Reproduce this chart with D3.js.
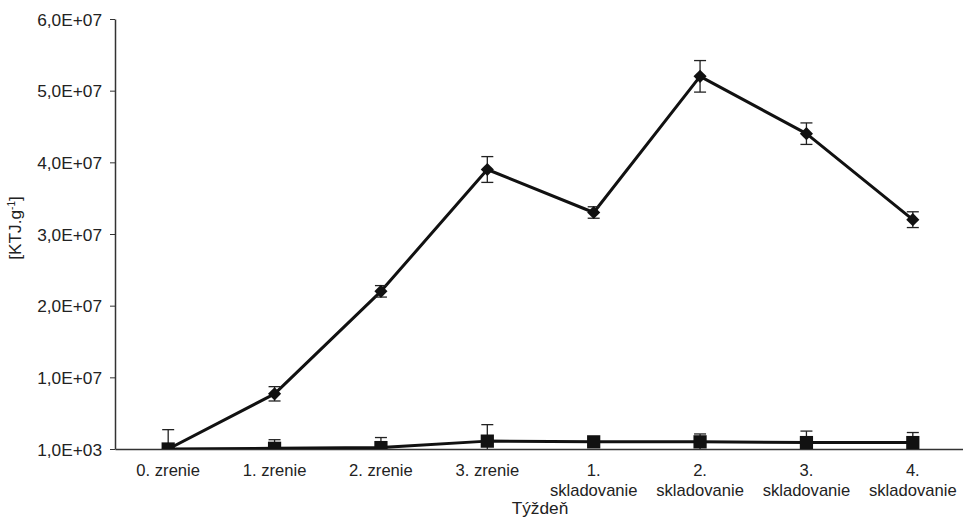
<!DOCTYPE html>
<html>
<head>
<meta charset="utf-8">
<script src="https://cdn.jsdelivr.net/npm/d3@7"></script>
<style>
  html, body { margin: 0; padding: 0; background: #fff; }
  svg text { font-family: "Liberation Sans", Arial, sans-serif; fill: #222; }
</style>
</head>
<body>
<svg id="chart" width="963" height="518"></svg>
<script>
// Week categories (each label may span two lines)
const categories = [
  ["0. zrenie"], ["1. zrenie"], ["2. zrenie"], ["3. zrenie"],
  ["1.", "skladovanie"], ["2.", "skladovanie"], ["3.", "skladovanie"], ["4.", "skladovanie"]
];
// Diamond series: means and standard deviations [KTJ.g-1]
const diamondValues = [1.0e3, 7.7e6, 2.2e7, 3.9e7, 3.3e7, 5.2e7, 4.4e7, 3.2e7];
const diamondErrors = [0, 1.0e6, 0.8e6, 1.8e6, 0.8e6, 2.2e6, 1.5e6, 1.1e6];
// Square series
const squareValues = [1.0e3, 1.0e5, 2.0e5, 1.1e6, 1.0e6, 1.0e6, 0.9e6, 0.9e6];
const squareErrors = [2.7e6, 1.2e6, 1.4e6, 2.3e6, 0.5e6, 1.1e6, 1.6e6, 1.4e6];
// Y-axis ticks
const yTicks = [1.0e3, 1.0e7, 2.0e7, 3.0e7, 4.0e7, 5.0e7, 6.0e7];
const yTickLabels = ["1,0E+03", "1,0E+07", "2,0E+07", "3,0E+07", "4,0E+07", "5,0E+07", "6,0E+07"];

const FS = 17.3;   // y tick labels and titles
const XFS = 16.6;  // category labels
const svg = d3.select("#chart");
const margin = { left: 115, top: 19, bottom: 69 };
const W = 963, H = 518;
const innerW = W - margin.left;
const innerH = H - margin.top - margin.bottom;

const x = d3.scaleBand().domain(d3.range(categories.length)).range([0, 851]);
const y = d3.scaleLinear().domain([1.0e3, 6.0e7]).range([innerH, 0]);

const g = svg.append("g").attr("transform", `translate(${margin.left},${margin.top})`);

svg.append("defs").append("clipPath").attr("id", "plot")
  .append("rect").attr("x", 0).attr("y", -20).attr("width", innerW).attr("height", innerH + 20);

// Y axis
const yAxis = d3.axisLeft(y).tickValues(yTicks)
  .tickFormat((d, i) => yTickLabels[i]).tickSize(5).tickPadding(8).tickSizeOuter(0);
const yg = g.append("g").call(yAxis).attr("font-size", FS)
  .attr("font-family", "Liberation Sans, Arial, sans-serif");
yg.select(".domain").attr("stroke", "#333").attr("stroke-width", 1.5);
yg.selectAll(".tick line").attr("stroke", "#333").attr("stroke-width", 1);
yg.selectAll(".tick text").style("font-size", FS + "px").attr("fill", "#222").attr("dy", "0.36em");

// X axis baseline and category labels
const xAxis = d3.axisBottom(x).tickSize(0).tickSizeOuter(0).tickFormat("");
const xg = g.append("g").attr("transform", `translate(0,${innerH})`).call(xAxis);
xg.select(".domain").attr("stroke", "#333").attr("stroke-width", 1.5);
xg.selectAll(".tick").each(function (d) {
  const t = d3.select(this).append("text")
    .attr("text-anchor", "middle").style("font-size", XFS + "px").attr("fill", "#222")
    .attr("y", 27);
  categories[d].forEach((s, i) =>
    t.append("tspan").attr("x", 0).attr("dy", i === 0 ? 0 : 20).text(s));
});

// Axis titles
const yTitle = svg.append("text")
  .attr("transform", `translate(21,${margin.top + innerH / 2 - 6}) rotate(-90)`)
  .attr("text-anchor", "middle").style("font-size", FS + "px");
yTitle.append("tspan").text("[KTJ.g");
yTitle.append("tspan").attr("dy", -6).style("font-size", "10px").text("-1");
yTitle.append("tspan").attr("dy", 6).text("]");

svg.append("text").attr("x", 540).attr("y", 514).attr("text-anchor", "middle")
  .style("font-size", FS + "px").text("Týždeň");

const cx = i => x(i) + x.bandwidth() / 2;
const plot = g.append("g").attr("clip-path", "url(#plot)");

function drawSeries(values, errors, symbolType, size) {
  const line = d3.line().x((d, i) => cx(i)).y(d => y(d));
  plot.append("path").datum(values).attr("fill", "none")
    .attr("stroke", "#111").attr("stroke-width", 3).attr("stroke-linejoin", "round")
    .attr("d", line);

  const eb = plot.append("g").attr("stroke", "#222").attr("stroke-width", 1.3);
  values.forEach((d, i) => {
    if (!(errors[i] > 0)) return;
    const x0 = cx(i);
    eb.append("line").attr("x1", x0).attr("x2", x0)
      .attr("y1", y(d - errors[i])).attr("y2", y(d + errors[i]));
    [d - errors[i], d + errors[i]].forEach(v =>
      eb.append("line").attr("x1", x0 - 6).attr("x2", x0 + 6).attr("y1", y(v)).attr("y2", y(v)));
  });

  plot.append("g").selectAll("path").data(values).join("path")
    .attr("transform", (d, i) => `translate(${cx(i)},${y(d)})`)
    .attr("d", d3.symbol().type(symbolType).size(size))
    .attr("fill", "#111");
}

drawSeries(squareValues, squareErrors, d3.symbolSquare, 175);
drawSeries(diamondValues, diamondErrors, d3.symbolDiamond2, 110);
</script>
</body>
</html>
